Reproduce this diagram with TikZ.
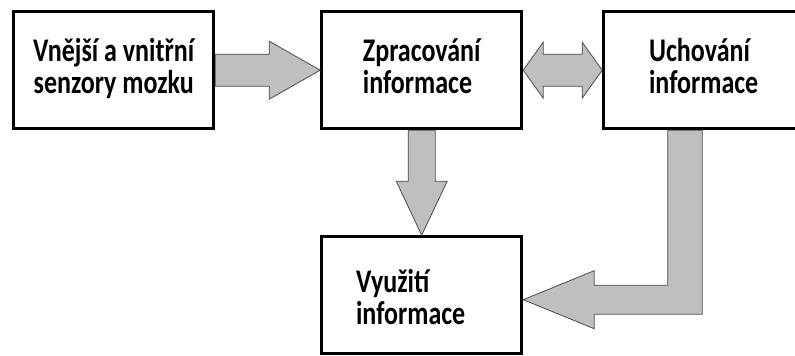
\documentclass[tikz,border=0pt]{standalone}
\usepackage{fontspec}
\setmainfont{Carlito}
\usetikzlibrary{matrix,calc}
\newcommand\boxtext[3][l]{\scalebox{1}[1.27]{\begin{tabular}{@{}#1@{}}#2\\#3\end{tabular}}}

\begin{document}
\begin{tikzpicture}[x=1pt,y=1pt,
      box/.style={draw,line width=3pt,minimum width=200pt,minimum height=117pt,
        inner sep=0pt,anchor=center,font=\fontsize{26}{23.6}\selectfont\bfseries},
      blk/.style={fill=black!25,draw=black!70,line width=0.8pt,line join=miter}]
      \useasboundingbox (0,0) rectangle (795,356);
      \matrix[matrix of nodes,nodes={box},anchor=north west,inner sep=0pt] at (12,346) {
        |(sens)| \boxtext[c]{Vnější a vnitřní}{senzory mozku}
        &[105pt] |(proc)| \boxtext{Zpracování}{informace}
        &[79pt] |(store)| \boxtext{Uchování}{informace} \\[105pt]
        & |(use)| \boxtext{\rule{0pt}{28pt}Využití}{informace\hspace*{22pt}} & \\
      };
      \draw[blk] ($(sens.east)+(0,16)$) -- ($(proc.west)+(-51,16)$) -- ++(0,13)
        -- (proc.west) -- ++(-51,-29) -- ++(0,13) -- ($(sens.east)+(0,-16)$) -- cycle;
      \draw[blk] (proc.east) -- ++(20,28) -- ++(0,-12) -- ($(store.west)+(-20,16)$)
        -- ++(0,12) -- (store.west) -- ++(-20,-28) -- ++(0,12)
        -- ($(proc.east)+(20,-16)$) -- ++(0,-12) -- cycle;
      \draw[blk] ($(proc.south)+(-13.5,0)$) -- ($(use.north)+(-13.5,54)$) -- ++(-12,0)
        -- (use.north) -- ++(25.5,54) -- ++(-12,0) -- ($(proc.south)+(13.5,0)$) -- cycle;
      \draw[blk] ($(store.south)+(-36,0)$) -- ($(store.south |- use.east)+(-36,10)$)
        -- ($(use.east)+(71,10)$) -- ($(use.east)+(71,24.5)$) -- ($(use.east)+(0,-4.5)$)
        -- ($(use.east)+(71,-33.5)$) -- ($(use.east)+(71,-19)$)
        -- ($(store.south |- use.east)+(-1.5,-19)$) -- ($(store.south)+(-1.5,0)$) -- cycle;
    \end{tikzpicture}
\end{document}
